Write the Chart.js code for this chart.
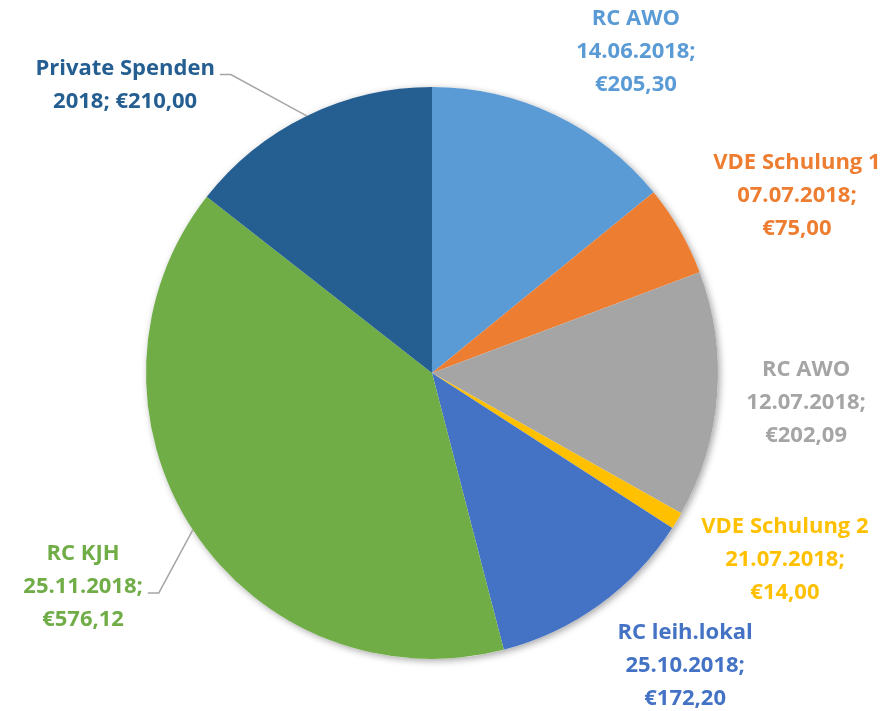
<!DOCTYPE html>
<html>
<head>
<meta charset="utf-8">
<script src="https://cdn.jsdelivr.net/npm/chart.js@4/dist/chart.umd.min.js"></script>
<style>
  html, body { margin:0; padding:0; background:#fff; }
  #wrap { width:887px; height:711px; position:relative; }
</style>
</head>
<body>
<div id="wrap"><canvas id="pie"></canvas></div>
<script>
// slice names, dates and amounts (EUR)
const names = ['RC AWO', 'VDE Schulung 1', 'RC AWO', 'VDE Schulung 2', 'RC leih.lokal', 'RC KJH', 'Private Spenden'];
const dates = ['14.06.2018', '07.07.2018', '12.07.2018', '21.07.2018', '25.10.2018', '25.11.2018', '2018'];
const amounts = [205.30, 75.00, 202.09, 14.00, 172.20, 576.12, 210.00];
const colors = ['#5B9BD5', '#ED7D31', '#A5A5A5', '#FFC000', '#4472C4', '#70AD47', '#255E91'];

// label placement relative to pie centre, in radius units
const labelPos = [[0.713,-1.122],[1.276,-0.619],[1.308,0.105],[1.234,0.654],[0.885,1.024],[-1.22,0.748],[-1.073,-1.007]];
const withLeader = [false,false,false,false,false,true,true];

function euro(v) { return '€' + v.toFixed(2).replace('.', ','); }
function labelLines(i) {
  if (i === 6) return [names[i], dates[i] + '; ' + euro(amounts[i])];
  return [names[i], dates[i] + ';', euro(amounts[i])];
}

const FONT = 'bold 22px "Open Sans"';
const LINE_H = 33;

// soft shadow under the whole pie
const pieShadow = {
  id: 'pieShadow',
  beforeDatasetsDraw(chart) {
    const a = chart.getDatasetMeta(0).data[0];
    if (!a) return;
    const ctx = chart.ctx;
    ctx.save();
    ctx.shadowColor = 'rgba(0,0,0,0.35)';
    ctx.shadowBlur = 7;
    ctx.shadowOffsetX = 2;
    ctx.shadowOffsetY = 2;
    ctx.fillStyle = '#fff';
    ctx.beginPath();
    ctx.arc(a.x, a.y, a.outerRadius, 0, Math.PI * 2);
    ctx.fill();
    ctx.restore();
  }
};

const sliceLabels = {
  id: 'sliceLabels',
  afterDatasetsDraw(chart) {
    const ctx = chart.ctx;
    const meta = chart.getDatasetMeta(0);
    ctx.save();
    ctx.font = FONT;
    ctx.textAlign = 'center';
    ctx.textBaseline = 'middle';
    meta.data.forEach((arc, i) => {
      const r = arc.outerRadius;
      const cx = arc.x + labelPos[i][0] * r;
      const cy = arc.y + labelPos[i][1] * r;
      const lines = labelLines(i);
      const y0 = cy - (lines.length - 1) * LINE_H / 2;
      ctx.fillStyle = colors[i];
      lines.forEach((t, k) => ctx.fillText(t, cx, y0 + k * LINE_H));
      if (withLeader[i]) {
        // leader from the right end of a text row to the slice edge
        const row = i === 6 ? 0 : 1;
        const w = ctx.measureText(lines[row]).width;
        const sx = cx + w / 2 + 5;
        const sy = y0 + row * LINE_H + 6;
        const mid = (arc.startAngle + arc.endAngle) / 2;
        const ex = arc.x + Math.cos(mid) * r;
        const ey = arc.y + Math.sin(mid) * r;
        ctx.strokeStyle = '#A6A6A6';
        ctx.lineWidth = 1.5;
        ctx.beginPath();
        ctx.moveTo(sx, sy);
        ctx.lineTo(sx + 11, sy);
        ctx.lineTo(ex, ey);
        ctx.stroke();
      }
    });
    ctx.restore();
  }
};

new Chart(document.getElementById('pie'), {
  type: 'pie',
  data: {
    labels: names.map((n, i) => n + ' ' + dates[i]),
    datasets: [{
      data: amounts,
      backgroundColor: colors,
      borderWidth: 0
    }]
  },
  options: {
    responsive: true,
    maintainAspectRatio: false,
    animation: false,
    layout: { padding: { top: 87, bottom: 52, left: 0, right: 23 } },
    plugins: { legend: { display: false }, tooltip: { enabled: false } }
  },
  plugins: [pieShadow, sliceLabels]
});
</script>
</body>
</html>
